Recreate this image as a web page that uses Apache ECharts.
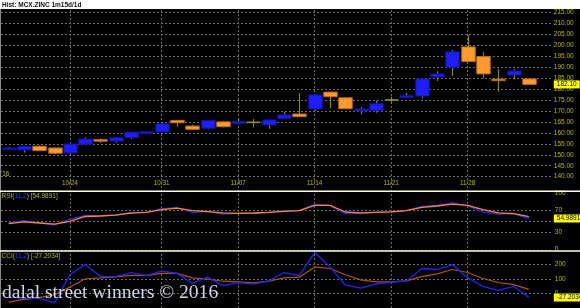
<!DOCTYPE html>
<html>
<head>
<meta charset="utf-8">
<script src="https://cdn.jsdelivr.net/npm/echarts@6/dist/echarts.min.js"></script>
<style>
html,body{margin:0;padding:0;background:#000;}
#c{width:580px;height:308px;}
</style>
</head>
<body>
<div id="c"></div>
<script>
// ---- data ----
const categories = ['10/18','10/19','10/20','10/21','10/24','10/25','10/26','10/27','10/28','10/30','10/31','11/01','11/02','11/03','11/04','11/07','11/08','11/09','11/10','11/11','11/14','11/15','11/16','11/17','11/18','11/21','11/22','11/23','11/24','11/25','11/28','11/29','11/30','12/01','12/02',''];
const dateLabels = ['10/24','10/31','11/07','11/14','11/21','11/28'];
const openP  = [152.5,152.2,153.9,153.1,150.8,154.8,156.9,156.2,157.8,159.8,160.4,165.7,163.1,162.1,165.0,164.2,164.8,163.6,166.6,168.6,170.9,178.6,176.0,170.0,170.1,175.0,176.2,176.8,185.5,189.9,199.2,194.8,184.5,186.4,184.6];
const closeP = [153.1,153.9,151.9,150.7,154.9,157.2,156.3,157.8,160.3,160.5,164.1,164.6,161.6,165.7,162.8,165.1,164.8,165.9,168.2,167.4,177.3,176.5,171.0,170.9,173.3,175.0,177.0,184.6,186.9,197.0,192.5,186.9,184.3,188.2,182.1];
const highP  = [153.7,154.0,154.2,153.3,155.1,158.0,157.5,158.0,160.5,160.7,165.0,165.9,163.7,165.9,165.3,166.5,166.3,166.1,169.7,178.1,177.5,178.8,176.2,171.9,174.7,176.5,178.3,184.8,188.2,197.8,204.7,196.8,189.1,189.1,184.7];
const lowP   = [152.4,151.0,151.7,150.2,150.2,154.6,155.5,155.5,157.2,159.6,160.3,162.8,161.4,161.6,162.5,163.9,162.5,161.9,166.4,167.2,170.1,171.2,170.8,168.5,169.2,173.2,175.8,175.8,183.7,186.0,192.3,184.9,178.8,184.4,182.0];
const rsi    = [47,51,47.5,43.4,53.6,60.7,60,61.3,66,66,72.5,74.3,66,67.9,63,64.3,64.3,66,69,69,80.3,79,63.6,63.6,66,67,69,76.8,78.6,83.2,77.3,66.6,63,63.6,54.9891];
const rsiSig = [46,48.8,47,45,50,58.6,59.5,61,64.6,66,70.7,73.7,69,67.3,65,64.3,64.8,66,67.8,69,78.6,78.6,66.6,65,66,67,69,75,77.3,80.8,78.6,71,65,63.6,58.4];
const cci    = [-27,-33,-33,-64,130,200,117,117,145,123,155,140,70,113,55,76,65,87,145,123,283,184,59,37,65,78,87,173,166,200,108,50,22,50,-27.2034];
const cciSig = [-59,-40,-28,-8,44,102,108,115,126,126,139,139,108,100,85,80,74,85,108,113,184,173,130,94,80,80,87,117,136,166,145,104,76,61,29];
const priceTicks = [140,145,150,155,160,165,170,175,180,185,190,195,200,205,210,215];
const rsiTicks = [0,30,70,100];
const rsiGrid = [30,50,70];
const cciTicks = [0,100,200];

// ---- chart ----
const FONT = 'Liberation Sans, Arial, sans-serif';
const LBL = '#b8b800';
const GRIDC = '#6a6a6a';
const candleData = openP.map((o,i)=>[i,o,closeP[i],lowP[i],highP[i]]);
const last = closeP.length-1;

function renderCandle(params, api){
  const i = api.value(0), o = api.value(1), c = api.value(2), l = api.value(3), h = api.value(4);
  const po = api.coord([i,o]), pc = api.coord([i,c]), pl = api.coord([i,l]), ph = api.coord([i,h]);
  const x = Math.round(po[0]) + 0.5;
  const w = api.size([1,0])[0]*0.88;
  const top = Math.min(po[1],pc[1]), bot = Math.max(po[1],pc[1]);
  const children = [{
    type:'line', shape:{x1:x,y1:ph[1],x2:x,y2:pl[1]},
    style:{stroke:'#878700', lineWidth:1.2}
  }];
  if (Math.abs(c-o) < 0.01) {
    children.push({type:'line', shape:{x1:x-w/2,y1:po[1],x2:x+w/2,y2:po[1]}, style:{stroke:'#9a9a10', lineWidth:1.5}});
  } else {
    const up = c > o;
    children.push({type:'rect', shape:{x:x-w/2, y:top, width:w, height:Math.max(bot-top,1.5)},
      style:{fill: up ? '#1e1ef8' : '#ff9a2e', stroke: up ? '#12129a' : '#b96a1c', lineWidth:1}});
  }
  return {type:'group', children};
}

const hiddenX = (gi)=>({type:'category', gridIndex:gi, data:categories, boundaryGap:true, show:false});
const markSpec = (val, txt)=>({
  silent:true, symbol:['none','none'],
  lineStyle:{color:'rgba(0,0,0,0)', width:1, type:'solid'},
  label:{show:true, position:'end', distance:2, formatter:txt, color:'#000', backgroundColor:'#ffff00',
    fontSize:6.5, fontFamily:FONT, padding:[1,3,0,3]},
  emphasis:{disabled:true},
  data:[{yAxis:val}]
});
const dotted = {color:GRIDC, type:[2,2], width:1};

const option = {
  backgroundColor:'#000',
  animation:false,
  grid:[
    {left:1, right:28.2, top:12.3, bottom:308-176.7},
    {left:1, right:28.2, top:193.3, bottom:308-249.3},
    {left:1, right:28.2, top:250.1, bottom:-4.4},
    {left:1, right:28.2, top:10, bottom:0}
  ],
  xAxis:[
    {type:'category', gridIndex:0, data:categories, boundaryGap:true,
      axisLine:{show:false}, axisTick:{show:false}, splitLine:{show:false},
      axisLabel:{color:LBL, fontSize:6.3, fontFamily:FONT, margin:4,
        interval:(idx,val)=>dateLabels.indexOf(val)>=0}},
    hiddenX(1), hiddenX(2), hiddenX(3)
  ],
  yAxis:[
    {type:'value', gridIndex:0, position:'right', min:140, max:215, interval:5,
      axisLine:{show:false}, axisTick:{show:false},
      splitLine:{show:true, lineStyle:dotted},
      axisLabel:{color:LBL, fontSize:6.5, fontFamily:FONT, margin:2, formatter:v=>priceTicks.indexOf(v)>=0? v.toFixed(2):''}},
    {type:'value', gridIndex:1, position:'right', min:0, max:100, interval:10,
      axisLine:{show:false}, axisTick:{show:false}, splitLine:{show:false},
      axisLabel:{color:LBL, fontSize:6.5, fontFamily:FONT, margin:3, formatter:v=>rsiTicks.indexOf(v)>=0? String(v):''}},
    {type:'value', gridIndex:2, position:'right', min:-100, max:300, interval:100,
      axisLine:{show:false}, axisTick:{show:false},
      splitLine:{show:true, lineStyle:dotted},
      axisLabel:{color:LBL, fontSize:6.5, fontFamily:FONT, margin:3, formatter:v=>cciTicks.indexOf(v)>=0? String(v):''}},
    {type:'value', gridIndex:3, min:0, max:1, show:false}
  ],
  series:[
    {type:'line', xAxisIndex:3, yAxisIndex:3, data:categories.map(()=>null), silent:true, z:1,
      markLine:{silent:true, symbol:['none','none'], label:{show:false}, lineStyle:dotted,
        data:dateLabels.map(d=>({xAxis:d}))}},
    {type:'custom', xAxisIndex:0, yAxisIndex:0, renderItem:renderCandle, data:candleData,
      encode:{x:0, y:[1,2,3,4]}, z:5},
    {type:'line', xAxisIndex:0, yAxisIndex:0, data:closeP, symbol:'none', silent:true, clip:false,
      lineStyle:{color:'rgba(0,0,0,0)'}, z:20, markLine:markSpec(closeP[last], closeP[last].toFixed(2))},
    {type:'line', xAxisIndex:1, yAxisIndex:1, data:rsi, symbol:'none', lineStyle:{color:'#2323ff', width:1.3}, z:5,
      markLine:{silent:true, symbol:['none','none'], label:{show:false}, lineStyle:dotted, data:rsiGrid.map(v=>({yAxis:v}))}},
    {type:'line', xAxisIndex:1, yAxisIndex:1, data:rsiSig, symbol:'none', clip:false, lineStyle:{color:'#ff8a1a', width:1.3}, z:20,
      markLine:markSpec(rsi[last], rsi[last].toFixed(4))},
    {type:'line', xAxisIndex:2, yAxisIndex:2, data:cciSig, symbol:'none', lineStyle:{color:'#a9560f', width:1.2}, z:5},
    {type:'line', xAxisIndex:2, yAxisIndex:2, data:cci, symbol:'none', clip:false, lineStyle:{color:'#2323ff', width:1.3}, z:20,
      markLine:markSpec(cci[last], cci[last].toFixed(4))}
  ],
  graphic:[
    {type:'rect', left:0, top:0, shape:{width:580, height:9}, style:{fill:'#ffffff'}, z:100},
    {type:'text', left:2, top:1.5, style:{text:'Hist: MCX.ZINC 1m15d/1d', fill:'#111', font:'bold 6.5px '+FONT}, z:101},
    {type:'line', shape:{x1:0.5,y1:9,x2:0.5,y2:308}, style:{stroke:'#8a8a8a', lineWidth:1}, z:100},
    {type:'rect', shape:{x:0, y:190.5, width:580, height:1.6}, style:{fill:'#fffde6'}, z:100},
    {type:'rect', shape:{x:0, y:250.2, width:580, height:1.6}, style:{fill:'#fffde6'}, z:100},
    {type:'text', left:1, top:171.5, style:{text:"'16", fill:LBL, font:'6.3px '+FONT}, z:101},
    {type:'text', left:1.5, top:193, style:{
      text:'{a|RSI(}{b|11,2}{a|) [54.9891]}',
      rich:{a:{fill:LBL, font:'6.5px '+FONT}, b:{fill:'#3535ff', font:'6.5px '+FONT}}}, z:101},
    {type:'text', left:1.5, top:253, style:{
      text:'{a|CCI(}{b|11,2}{a|) [-27.2034]}',
      rich:{a:{fill:LBL, font:'6.5px '+FONT}, b:{fill:'#3535ff', font:'6.5px '+FONT}}}, z:101},
    {type:'text', left:2, top:283, style:{text:'dalal street winners \u00a9 2016', fill:'#cdd6e8',
      font:'19.6px "Liberation Serif", "DejaVu Serif", serif'}, z:110}
  ]
};
const chart = echarts.init(document.getElementById('c'), null, {renderer:'canvas'});
chart.setOption(option);
</script>
</body>
</html>
